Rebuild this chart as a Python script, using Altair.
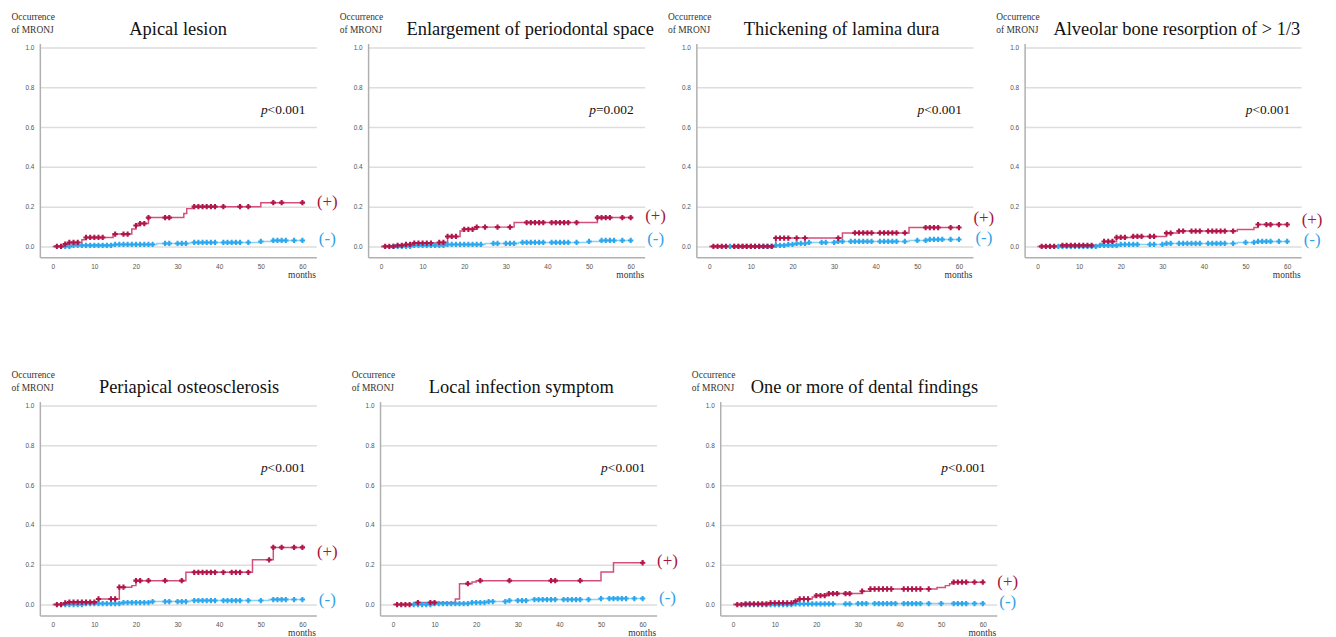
import altair as alt
import pandas as pd

SERIF = "Liberation Serif"
SANS = "Liberation Sans"

TITLES = [
    "Apical lesion",
    "Enlargement of  periodontal space",
    "Thickening of lamina dura",
    "Alveolar bone resorption of > 1/3",
    "Periapical osteosclerosis",
    "Local infection symptom",
    "One or more of dental findings",
]
P_VALUES = ["<0.001", "=0.002", "<0.001", "<0.001", "<0.001", "<0.001", "<0.001"]
GROUPS = ["(-)", "(+)"]
X_TICKS = [0, 10, 20, 30, 40, 50, 60]
Y_TICKS = [0.0, 0.2, 0.4, 0.6, 0.8, 1.0]
END_MONTH = 60

# (+) group: step times and cumulative occurrence after each step
POS_T = [
    [0, 3, 4, 7, 8, 14.5, 19, 20, 21, 23, 31.5, 32.2, 33.7, 50],
    [0, 4, 6, 8, 14, 16, 19, 20, 23, 32, 52],
    [0, 16, 32, 48],
    [0, 5, 15, 16, 19, 23, 31, 34, 48, 52, 53],
    [0, 3, 4, 11, 16, 19, 20, 32, 48, 53],
    [0, 5, 15, 16, 19, 20, 50, 53],
    [0, 3, 9, 15, 16, 19, 20, 23, 31, 33, 49, 51, 52, 53],
]
POS_Y = [
    [0, 0.012, 0.02, 0.033, 0.045, 0.062, 0.087, 0.105, 0.115, 0.145, 0.165, 0.19, 0.2, 0.22],
    [0, 0.005, 0.01, 0.017, 0.02, 0.05, 0.077, 0.086, 0.097, 0.12, 0.145],
    [0, 0.042, 0.068, 0.095],
    [0, 0.005, 0.012, 0.025, 0.045, 0.05, 0.067, 0.077, 0.085, 0.095, 0.11],
    [0, 0.008, 0.012, 0.028, 0.087, 0.095, 0.12, 0.162, 0.225, 0.287],
    [0, 0.01, 0.028, 0.105, 0.113, 0.12, 0.163, 0.21],
    [0, 0.003, 0.008, 0.017, 0.028, 0.038, 0.045, 0.055, 0.067, 0.078, 0.085, 0.095, 0.105, 0.112],
]
POS_CENSOR = [
    [1, 2, 3, 4, 5, 6, 8, 9, 10, 11, 12, 15, 17, 18, 20, 21, 22, 23, 27, 28, 34, 35, 36, 37, 38, 39, 41, 45, 47, 53, 55, 60],
    [1, 2, 3, 4, 5, 6, 7, 8, 9, 10, 11, 12, 14, 15, 16, 17, 18, 20, 21, 22, 23, 25, 28, 31, 35, 36, 37, 38, 39, 41, 42, 43, 44, 45, 47, 52, 53, 54, 55, 58, 60],
    [1, 2, 3, 4, 6, 7, 8, 9, 10, 11, 12, 13, 14, 15, 16, 17, 18, 19, 21, 23, 31, 35, 36, 37, 38, 39, 41, 42, 43, 44, 45, 47, 52, 53, 54, 55, 58, 60],
    [1, 2, 3, 4, 6, 7, 8, 9, 10, 11, 12, 13, 16, 17, 18, 19, 20, 21, 23, 24, 25, 27, 28, 31, 32, 34, 35, 37, 38, 39, 41, 42, 43, 44, 45, 47, 53, 55, 56, 58, 60],
    [1, 2, 3, 4, 5, 6, 7, 8, 9, 10, 11, 14, 15, 16, 17, 20, 21, 23, 27, 31, 34, 35, 36, 37, 38, 39, 41, 43, 44, 45, 47, 52, 53, 55, 58, 60],
    [1, 2, 3, 4, 6, 9, 10, 18, 21, 28, 38, 39, 45, 60],
    [1, 2, 3, 4, 5, 6, 7, 8, 9, 10, 11, 12, 13, 14, 15, 16, 17, 18, 20, 21, 22, 23, 24, 25, 27, 28, 31, 33, 34, 35, 36, 37, 38, 41, 42, 43, 44, 45, 47, 53, 54, 55, 56, 58, 60],
]

# (-) group
NEG_T = [
    [0, 5, 15, 25, 33, 50, 53],
    [0, 8, 16, 25, 33, 50, 53],
    [0, 16, 19, 21, 24, 31, 48, 53],
    [0, 15, 20, 31, 48, 53],
    [0, 8, 17, 24, 33, 52],
    [0, 10, 19, 23, 28, 33, 50],
    [0, 15, 30],
]
NEG_Y = [
    [0, 0.005, 0.01, 0.015, 0.02, 0.025, 0.03],
    [0, 0.005, 0.01, 0.015, 0.02, 0.025, 0.03],
    [0, 0.005, 0.01, 0.015, 0.02, 0.025, 0.03, 0.035],
    [0, 0.005, 0.01, 0.015, 0.02, 0.025],
    [0, 0.005, 0.01, 0.015, 0.02, 0.025],
    [0, 0.005, 0.01, 0.015, 0.02, 0.025, 0.03],
    [0, 0.003, 0.005],
]
NEG_CENSOR_A = [3, 4, 5, 6, 7, 8, 9, 10, 11, 12, 13, 14, 15, 16, 17, 18, 19, 20, 21, 22, 23, 24,
                27, 28, 30, 31, 32, 34, 35, 36, 37, 38, 39, 41, 42, 43, 44, 45, 47, 50, 53, 54, 55, 56, 58, 60]
NEG_CENSOR_B = [5, 6, 7, 8, 9, 10, 11, 12, 13, 14, 15, 16, 17, 18, 19, 20, 21, 22, 23, 24,
                27, 28, 30, 31, 32, 34, 35, 36, 37, 38, 39, 41, 42, 43, 44, 45, 47, 50, 52, 53, 54, 55, 56, 58, 60]
NEG_CENSOR = [NEG_CENSOR_A, NEG_CENSOR_A, NEG_CENSOR_B, NEG_CENSOR_B, NEG_CENSOR_A, NEG_CENSOR_B, NEG_CENSOR_A]

# annotation layout (pixels inside each panel)
TITLE_X = [139, 163, 146, 153, 150, 142, 145]
PLUS_Y = [159, 173, 175, 177, 151, 160, 181]
MINUS_Y = [197, 197, 196, 198, 199, 197, 201]

W, H = 278, 215
RED_LINE, RED_MARK, RED_TEXT = "#d3507a", "#b0164a", "#a3173d"
BLUE_LINE, BLUE_MARK, BLUE_TEXT = "#86d3f6", "#2ba7ee", "#33a2e6"


def value_at(times, values, t):
    v = values[0]
    for ti, vi in zip(times, values):
        if ti <= t:
            v = vi
    return v


def panel(i):
    rows = []
    for g, ts, ys in (("(-)", NEG_T[i], NEG_Y[i]), ("(+)", POS_T[i], POS_Y[i])):
        for t, y in zip(ts, ys):
            rows.append({"g": g, "t": t, "y": y})
        rows.append({"g": g, "t": END_MONTH, "y": ys[-1]})
    lines = pd.DataFrame(rows)

    crow = []
    for t in NEG_CENSOR[i]:
        crow.append({"g": "(-)", "t": t, "y": value_at(NEG_T[i], NEG_Y[i], t)})
    for t in POS_CENSOR[i]:
        crow.append({"g": "(+)", "t": t, "y": value_at(POS_T[i], POS_Y[i], t)})
    cens = pd.DataFrame(crow)

    xaxis = alt.Axis(values=X_TICKS, title="months", titleX=W - 1, titleY=20,
                     titleAlign="right", titleBaseline="alphabetic", titleFont=SERIF,
                     titleFontSize=9.5, titleFontWeight="normal", titleColor="#333",
                     labelFont=SANS, labelFontSize=6.5, labelColor="#555", ticks=False,
                     labelPadding=6, domainColor="#b0b0b0", domainWidth=1.5, grid=False)
    yaxis = alt.Axis(values=Y_TICKS, format=".1f", title=["Occurrence", "of MRONJ"],
                     titleAngle=0, titleAlign="left", titleBaseline="alphabetic",
                     titleX=-29, titleY=-24, titleLineHeight=13, titleFont=SERIF,
                     titleFontSize=9.5, titleFontWeight="normal", titleColor="#333",
                     labelFont=SANS, labelFontSize=6.5, labelColor="#555", ticks=False,
                     labelPadding=6, domainColor="#b0b0b0", domainWidth=1.5,
                     grid=True, gridColor="#dddddd", gridWidth=1.5)
    x = alt.X("t:Q", scale=alt.Scale(domain=[-3.1, 63.35], nice=False, zero=False), axis=xaxis)
    y = alt.Y("y:Q", scale=alt.Scale(domain=[-0.055, 1.02], nice=False, zero=False), axis=yaxis)

    line = alt.Chart(lines).mark_line(interpolate="step-after", strokeWidth=1.5).encode(
        x=x, y=y,
        stroke=alt.Stroke("g:N", scale=alt.Scale(domain=GROUPS, range=[BLUE_LINE, RED_LINE]), legend=None),
        detail="g:N",
    )
    pts = alt.Chart(cens).mark_point(shape="cross", filled=True, size=28, opacity=1).encode(
        x=x, y=y,
        fill=alt.Fill("g:N", scale=alt.Scale(domain=GROUPS, range=[BLUE_MARK, RED_MARK]), legend=None),
    )

    def txt(s, xpx, ypx, size, color, align="center", style="normal"):
        return alt.Chart(pd.DataFrame({"s": [s]})).mark_text(
            font=SERIF, fontSize=size, color=color, align=align, baseline="middle",
            fontStyle=style,
        ).encode(x=alt.value(xpx), y=alt.value(ypx), text="s:N")

    layers = [
        line, pts,
        txt(TITLES[i], TITLE_X[i], -15, 18.5, "#111"),
        txt("p", 229, 67, 13.5, "#111", align="right", style="italic"),
        txt(P_VALUES[i], 229, 67, 13.5, "#111", align="left"),
        txt("(+)", 289, PLUS_Y[i], 17, RED_TEXT),
        txt("(-)", 289, MINUS_Y[i], 17, BLUE_TEXT),
    ]
    return alt.layer(*layers).properties(width=W, height=H)


row1 = alt.hconcat(*[panel(i) for i in range(4)], spacing=52, bounds="flush")
row2 = alt.hconcat(*[panel(i) for i in range(4, 7)], spacing=64, bounds="flush")
chart = alt.vconcat(row1, row2, spacing=91).configure_view(stroke=None).properties(
    background="white",
    padding={"left": 3, "top": 2, "right": 5, "bottom": 5},
)

chart.save("out.html", embed_options={"renderer": "svg", "actions": False})
